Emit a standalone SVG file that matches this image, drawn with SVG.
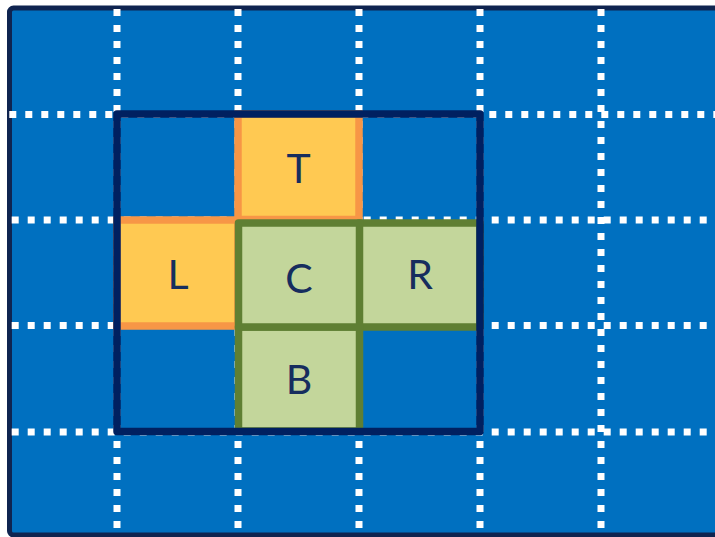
<svg xmlns="http://www.w3.org/2000/svg" width="715" height="537" viewBox="0 0 715 537">
<style>
.grid{stroke:#FFFFFF;stroke-width:7;stroke-dasharray:7 9;fill:none}
.orange{fill:#FFC952;stroke:#F79646;stroke-width:7.5}
.green{fill:#C3D69B;stroke:#5F7F33;stroke-width:7.5;stroke-linejoin:round}
.lbl{font-family:Lato,"Open Sans","Liberation Sans",sans-serif;font-size:41px;fill:#162D5E;text-anchor:middle}
</style>
<rect x="0" y="0" width="715" height="537" fill="#FFFFFF"/>
<rect id="frame" x="9.5" y="8" width="720" height="527" rx="4" fill="#0070C0" stroke="#0F2450" stroke-width="5"/>
<g id="grid">
<line class="grid" x1="9.3" y1="114.5" x2="715" y2="114.5"/>
<line class="grid" x1="11.7" y1="220" x2="715" y2="220"/>
<line class="grid" x1="11.7" y1="325.5" x2="715" y2="325.5"/>
<line class="grid" x1="11.7" y1="432" x2="715" y2="432"/>
<line class="grid" x1="117" y1="9" x2="117" y2="537"/>
<line class="grid" x1="238" y1="9" x2="238" y2="537"/>
<line class="grid" x1="359" y1="9" x2="359" y2="537"/>
<line class="grid" x1="480" y1="9" x2="480" y2="537"/>
<line class="grid" x1="601" y1="9" x2="601" y2="537"/>
</g>
<g id="T"><rect class="orange" x="238" y="114" width="121" height="105.5"/><text class="lbl" x="298.5" y="183">T</text></g>
<g id="L"><rect class="orange" x="117" y="220" width="121" height="106"/><text class="lbl" x="178" y="289">L</text></g>
<g id="R"><rect class="green" x="359" y="223" width="121" height="104"/><text class="lbl" x="420" y="289">R</text></g>
<g id="B"><rect class="green" x="238.5" y="327" width="121" height="104"/><text class="lbl" x="299" y="394">B</text></g>
<g id="C"><rect class="green" x="238.5" y="223" width="121" height="104"/><text class="lbl" x="299" y="293">C</text></g>
<g id="box"><rect x="117" y="114" width="363" height="317.5" fill="none" stroke="#002060" stroke-width="7.5" stroke-linejoin="round"/></g>
</svg>
